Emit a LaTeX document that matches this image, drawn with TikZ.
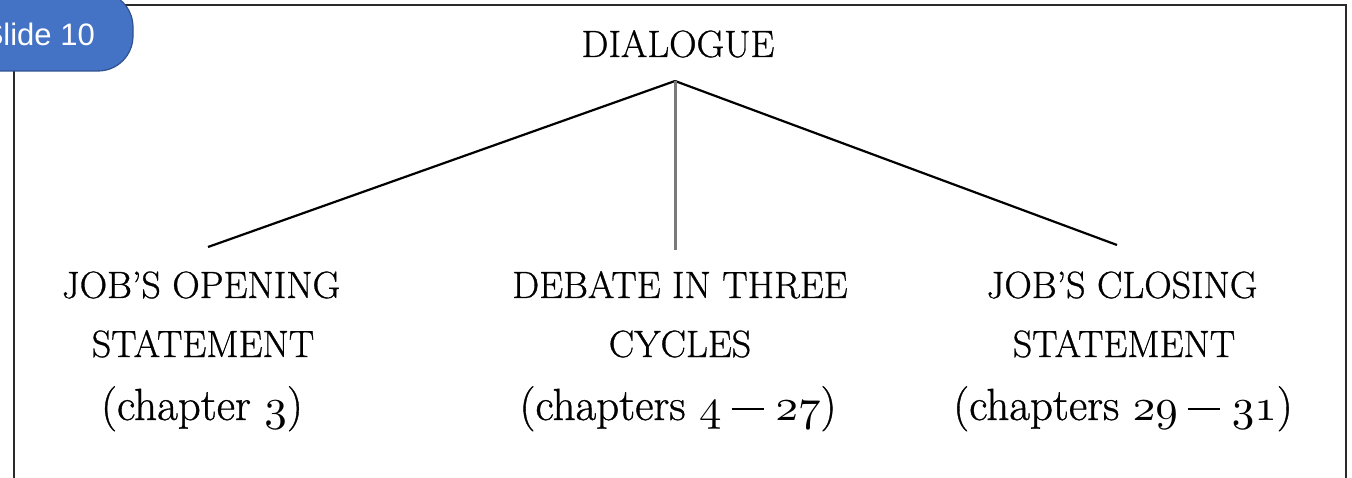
\documentclass[tikz,border=0pt]{standalone}
\usepackage{graphicx}
\usepackage{fontspec}
\newfontfamily\badgefont{Liberation Sans}
\newfontfamily\dfont{Latin Modern Roman}[FakeBold=0.8]
\newcommand\osf[1]{\scalebox{4.5}{\fontsize{10}{12}\usefont{OML}{cmm}{m}{it}#1}}
\newcommand\ndash{\hspace{10pt}\rule[10pt]{32pt}{2.2pt}\hspace{12pt}}
\definecolor{badgeblue}{HTML}{4472C4}
\definecolor{badgeedge}{HTML}{2F528F}
\definecolor{framegray}{HTML}{2A2A2A}
\definecolor{stemgray}{HTML}{7A7A7A}
\tikzset{
  capstext/.style={anchor=base, inner sep=0pt, font=\dfont\fontsize{38}{42}\selectfont},
  chaptext/.style={anchor=base, inner sep=0pt, font=\dfont\fontsize{45}{50}\selectfont},
  branch/.style={draw=black, line width=2.2pt},
  stem/.style={draw=stemgray, line width=3pt},
}
\begin{document}
\begin{tikzpicture}[x=1pt,y=-1pt]
\useasboundingbox (0,0) rectangle (1352,478);
\clip (0,0) rectangle (1352,478);
% frame
\draw[framegray, line width=1.5pt] (14,495) -- (14,5) -- (1346,5) -- (1346,495);
% badge
\draw[fill=badgeblue, draw=badgeedge, line width=1.2pt, rounded corners=35pt] (-40,-8) rectangle (133,71);
\node[anchor=base east, inner sep=0pt, text=white, font=\badgefont\fontsize{31}{34}\selectfont] (slide) at (95,46) {Slide 10};
% top
\node[capstext] (dialogue) at (678,57) {DIALOGUE};
\coordinate (apex) at (675,81);
% column texts
\node[capstext] (l1) at (201,298) {JOB’S OPENING};
\node[capstext] (l2) at (203,357) {STATEMENT};
\node[chaptext] (l3) at (202,420) {(chapter \osf{3})};
\node[capstext] (m1) at (680,298) {DEBATE IN THREE};
\node[capstext] (m2) at (680,357) {CYCLES};
\node[chaptext] (m3) at (678,420) {(chapters \osf{4}\ndash\osf{27})};
\node[capstext] (r1) at (1122,298) {JOB’S CLOSING};
\node[capstext] (r2) at (1124,357) {STATEMENT};
\node[chaptext] (r3) at (1123,420) {(chapters \osf{29}\ndash\osf{31})};
% branch ends
\coordinate (lend) at (208,247);
\coordinate (mend) at (675,250);
\coordinate (rend) at (1117,245);
\draw[branch] (apex) -- (lend);
\draw[branch] (apex) -- (rend);
\draw[stem] (apex) -- (mend);
\end{tikzpicture}
\end{document}
